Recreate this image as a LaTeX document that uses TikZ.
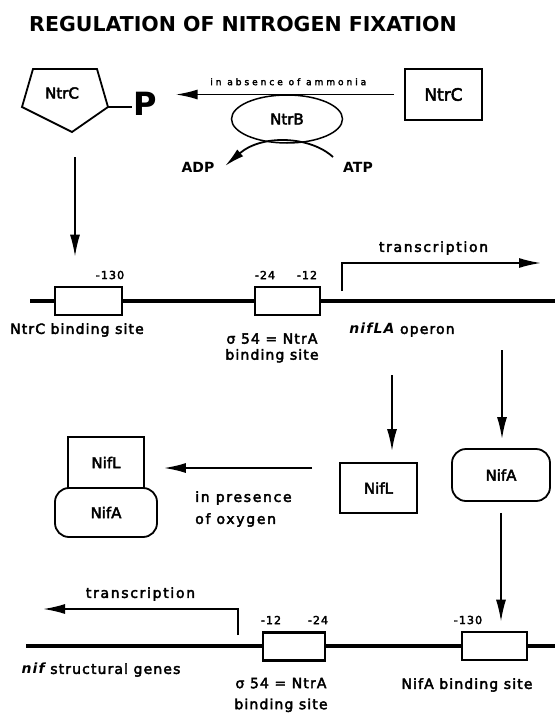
\documentclass[tikz,border=0pt]{standalone}
\usepackage{fontspec}
\setmainfont{DejaVu Sans}[UprightFeatures={FakeBold=3}, ItalicFeatures={FakeBold=1}]
\usetikzlibrary{arrows.meta,shapes.geometric}

\tikzset{
  site/.style={draw, line width=2.6pt, fill=white, minimum height=28pt, inner sep=0pt},
  protein/.style={draw, line width=1.8pt, fill=white, inner sep=0pt, font=\fontsize{15}{17}\selectfont},
  posn/.style={font=\fontsize{11}{12}\selectfont\addfontfeature{LetterSpace=10}},
  lbl/.style={font=\fontsize{14}{16}\selectfont\addfontfeature{LetterSpace=8}, align=center},
  txlbl/.style={font=\fontsize{14}{16}\selectfont\addfontfeature{LetterSpace=12}},
  dna/.style={line width=4pt},
}

\begin{document}
\begin{tikzpicture}[x=1pt, y=-1pt, >={Latex[length=22pt,width=10pt]}, line width=1.8pt]
	\useasboundingbox (0,0) rectangle (555,715);
	\node[font=\bfseries\fontsize{20.5}{24}\selectfont] (title) at (243,24) {REGULATION OF NITROGEN FIXATION};

	% NtrC is phosphorylated by NtrB
	\draw (33,69) -- (97,69) -- (108,107) coordinate (pv) -- (72,132) -- (22,107) -- cycle;
	\node[font=\fontsize{15}{17}\selectfont] (ntrcp) at (62,93) {NtrC};
	\node[font=\bfseries\fontsize{32}{32}\selectfont, inner sep=0pt] (P) at (145,104) {P};
	\draw (pv) -- (P.west |- pv);
	\node[protein, font=\fontsize{17}{19}\selectfont, minimum width=77pt, minimum height=51pt] (ntrc) at (443.5,94.5) {NtrC};
	\draw[->, shorten <=10pt, shorten >=18pt] (ntrc.west) -- node[font=\fontsize{9}{10}\selectfont\addfontfeature{LetterSpace=33}, above=5pt, pos=0.47] {in absence of ammonia} (P.east |- ntrc.west);
	\node[protein, ellipse, line width=1.5pt, minimum width=111pt, minimum height=48pt] (ntrb) at (287,119) {NtrB};
	\node[font=\bfseries\fontsize{14}{16}\selectfont] (adp) at (198,167) {ADP};
	\node[font=\bfseries\fontsize{14}{16}\selectfont] (atp) at (358,167) {ATP};
	\coordinate (atpin) at (333,157);
	\coordinate (adpout) at (225,166);
	\draw[->, >={Latex[length=20pt,width=9pt]}] (atpin) .. controls (310,136) and (262,134) .. (adpout);

	% nifLA operon
	\coordinate (down1) at (75,157);
	\coordinate (tss1) at (342,291);
	\coordinate (tx1) at (541,263);
	\draw[dna] (30,301) -- (555,301);
	\node[site, minimum width=67pt] (site1) at (88.5,301) {};
	\node[site, minimum width=65pt] (site2) at (287.5,301) {};
	\draw[->, shorten >=29pt] (down1) -- (down1 |- site1.north);
	\node[posn] (m130a) at (110,275) {-130};
	\node[posn] (m24a) at (265,275) {-24};
	\node[posn] (m12a) at (307,275) {-12};
	\draw[->] (tss1) |- node[txlbl, pos=0.73, above=4pt] {transcription} (tx1);
	\node[lbl] (ntrcsite) at (77,330) {NtrC binding site};
	\node[lbl] (sigmaa) at (272,348) {σ 54 = NtrA\\binding site};
	\node[lbl] (operon) at (402,330) {{\bfseries\itshape nifLA} operon};

	% NifL and NifA
	\node[protein, minimum width=77pt, minimum height=50pt] (nifl) at (378.5,488) {NifL};
	\node[protein, rounded corners=14pt, minimum width=98pt, minimum height=52pt] (nifa) at (501,475) {NifA};
	\coordinate (a1) at (392,375);
	\coordinate (a2) at (502,350);
	\draw[->, shorten >=11pt] (a1) -- (a1 |- nifl.north);
	\draw[->, shorten >=9pt] (a2) -- (a2 |- nifa.north);
	\node[protein, minimum width=76pt, minimum height=51pt] (cnifl) at (106,462.5) {NifL};
	\node[protein, rounded corners=14pt, minimum width=102pt, minimum height=49pt] (cnifa) at (106,512.5) {NifA};
	\coordinate (o2) at (312,468);
	\draw[->, shorten >=19pt] (o2) -- (o2 -| cnifl.east);
	\node[lbl, align=left, anchor=west, font=\fontsize{14}{22}\selectfont\addfontfeature{LetterSpace=12}] (oxy) at (191,509) {in presence\\of oxygen};

	% nif structural genes
	\coordinate (tss2) at (238,635);
	\coordinate (tx2) at (43,609);
	\draw[dna] (26,646) -- (555,646);
	\node[site, minimum width=62pt] (site3) at (294,646.5) {};
	\node[site, minimum width=65pt] (site4) at (494.5,646) {};
	\draw[->, shorten <=11pt, shorten >=9pt] (nifa.south) -- (nifa.south |- site4.north);
	\node[posn] (m12b) at (271,620) {-12};
	\node[posn] (m24b) at (318,620) {-24};
	\node[posn] (m130b) at (468,620) {-130};
	\draw[->] (tss2) |- node[txlbl, pos=0.75, above=4pt] {transcription} (tx2);
	\node[lbl] (genes) at (101,670) {{\bfseries\itshape nif} structural genes};
	\node[lbl, font=\fontsize{14}{21}\selectfont\addfontfeature{LetterSpace=8}] (sigmab) at (281,695) {σ 54 = NtrA\\binding site};
	\node[lbl] (nifasite) at (467,685) {NifA binding site};
\end{tikzpicture}
\end{document}
